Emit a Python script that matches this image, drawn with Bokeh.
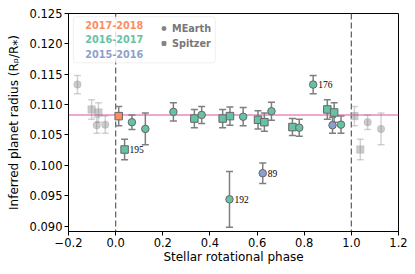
import numpy as np
from bokeh.plotting import figure
from bokeh.models import (Range1d, FixedTicker, CustomJSTickFormatter, ColumnDataSource,
                          Span, Label, BoxAnnotation, Legend, LegendItem, LabelSet)
from bokeh.embed import file_html
from bokeh.resources import INLINE

# ---- data ----
phase = [0.013, 0.038, 0.069, 0.126, 0.245, 0.334, 0.365, 0.454, 0.485, 0.483, 0.541,
         0.604, 0.631, 0.624, 0.661, 0.750, 0.779, 0.838, 0.898, 0.927, 0.920, 0.956]
radius = [0.1081, 0.1026, 0.1071, 0.1060, 0.1088, 0.1077, 0.1083, 0.1077, 0.1081, 0.0944, 0.1080,
          0.1075, 0.1071, 0.0987, 0.1089, 0.1063, 0.1062, 0.1133, 0.1092, 0.1087, 0.1066, 0.1067]
radius_err = [0.0016, 0.0017, 0.0012, 0.0026, 0.0015, 0.0015, 0.0014, 0.0015, 0.0015, 0.0046, 0.0015,
              0.0015, 0.0015, 0.0017, 0.0015, 0.0014, 0.0014, 0.0015, 0.0016, 0.0016, 0.0013, 0.0014]
season = ["2017-2018", "2016-2017", "2016-2017", "2016-2017", "2016-2017", "2016-2017", "2016-2017",
          "2016-2017", "2016-2017", "2016-2017", "2016-2017", "2016-2017", "2016-2017", "2015-2016",
          "2016-2017", "2016-2017", "2016-2017", "2016-2017", "2016-2017", "2016-2017", "2015-2016",
          "2016-2017"]
instrument = ["Spitzer", "Spitzer", "MEarth", "MEarth", "MEarth", "Spitzer", "MEarth", "Spitzer",
              "Spitzer", "MEarth", "MEarth", "Spitzer", "Spitzer", "MEarth", "MEarth", "Spitzer",
              "MEarth", "MEarth", "Spitzer", "Spitzer", "MEarth", "MEarth"]
epoch_label = ["", "195", "", "", "", "", "", "", "", "192", "", "", "", "89", "", "", "", "176",
               "", "", "", ""]
seasons = ["2017-2018", "2016-2017", "2015-2016"]
season_colors = ["#fc8d62", "#66c2a5", "#8da0cb"]
instruments = ["MEarth", "Spitzer"]
instrument_markers = ["circle", "square"]
mean_radius = 0.1083
x_ticks = [-0.2, 0.0, 0.2, 0.4, 0.6, 0.8, 1.0, 1.2]
y_ticks = [0.090, 0.095, 0.100, 0.105, 0.110, 0.115, 0.120, 0.125]
period_lines = [0.0, 1.0]

FONT = "DejaVu Sans"

ph = np.array(phase)
r = np.array(radius)
e = np.array(radius_err)
cmap = dict(zip(seasons, season_colors))
mmap = dict(zip(instruments, instrument_markers))
colors = [cmap[s] for s in season]
markers = [mmap[i] for i in instrument]

main = ColumnDataSource(dict(x=ph, y=r, lo=r - e, hi=r + e, color=colors, marker=markers,
                             label=epoch_label))
wrap = ColumnDataSource(dict(x=np.concatenate([ph - 1, ph + 1]), y=np.concatenate([r, r]),
                             lo=np.concatenate([r - e, r - e]), hi=np.concatenate([r + e, r + e]),
                             marker=markers + markers))

p = figure(width=410, height=272, x_range=Range1d(-0.2, 1.2), y_range=Range1d(0.0891, 0.125),
           output_backend="svg", toolbar_location=None,
           min_border_left=68, min_border_right=12, min_border_top=13, min_border_bottom=41)
p.xgrid.visible = False
p.ygrid.visible = False
p.outline_line_color = "black"
p.outline_line_width = 1
p.outline_line_alpha = 1

for loc in period_lines:
    p.add_layout(Span(location=loc, dimension="height", line_color="#666666", line_width=1.3,
                      line_dash="6 3", level="underlay"))
p.add_layout(Span(location=mean_radius, dimension="width", line_color="#e78ac3", line_width=1.5,
                  level="underlay"))

# wrapped (repeated) points in light gray
p.segment(x0="x", y0="lo", x1="x", y1="hi", source=wrap, line_color="#808080", line_alpha=0.35,
          line_width=1.5)
p.scatter(x="x", y="lo", source=wrap, marker="dash", size=7, line_color="#808080", line_alpha=0.35,
          line_width=1.5)
p.scatter(x="x", y="hi", source=wrap, marker="dash", size=7, line_color="#808080", line_alpha=0.35,
          line_width=1.5)
p.scatter(x="x", y="y", source=wrap, marker="marker", size=7.5, fill_color="#808080",
          fill_alpha=0.4, line_color="#808080", line_alpha=0.2)

# main points
p.segment(x0="x", y0="lo", x1="x", y1="hi", source=main, line_color="#7f7f7f", line_width=1.5)
p.scatter(x="x", y="lo", source=main, marker="dash", size=7, line_color="#7f7f7f", line_width=1.5)
p.scatter(x="x", y="hi", source=main, marker="dash", size=7, line_color="#7f7f7f", line_width=1.5)
p.scatter(x="x", y="y", source=main, marker="marker", size=7.5, fill_color="color",
          line_color="#666666", line_width=1)

p.add_layout(LabelSet(x="x", y="y", text="label", source=main, x_offset=5, y_offset=0,
                      text_baseline="middle", text_font=FONT, text_font_size="9.5px",
                      text_color="black"))

# legend frame and entries
p.add_layout(BoxAnnotation(left=-0.179, right=0.423, top=0.12446, bottom=0.11687,
                           fill_color="white", fill_alpha=0.8, line_color="#cccccc",
                           line_width=1, border_radius=3))
for i, (s, c) in enumerate(zip(seasons, season_colors)):
    p.add_layout(Label(x=-0.129, y=0.1231 - i * 0.00238, text=s, text_color=c,
                       text_font=FONT, text_font_style="bold", text_font_size="9.7px",
                       text_baseline="middle"))

items = []
for n, m in zip(instruments, instrument_markers):
    cap = p.scatter(x=[np.nan], y=[np.nan], marker="square", size=9, fill_alpha=0,
                    line_color="#808080", line_alpha=0.45, line_width=1)
    mk = p.scatter(x=[np.nan], y=[np.nan], marker=m, size=6, fill_color="#808080",
                   line_color="#808080")
    items.append(LegendItem(label=n, renderers=[cap, mk]))
legend = Legend(items=items, location=(91, 182), orientation="vertical", glyph_width=9,
                glyph_height=12, label_height=12, spacing=3, padding=0, margin=0,
                label_standoff=4, border_line_alpha=0, background_fill_alpha=0,
                label_text_font=FONT, label_text_font_style="bold",
                label_text_color="#777777", label_text_font_size="9.7px")
p.add_layout(legend)

# axes
for ax in (p.xaxis[0], p.yaxis[0]):
    ax.axis_line_color = "black"
    ax.major_tick_line_color = "black"
    ax.minor_tick_line_color = None
    ax.major_tick_out = 4
    ax.major_tick_in = 0
    ax.major_label_text_font = FONT
    ax.major_label_text_font_size = "11.5px"
    ax.major_label_text_color = "black"
    ax.axis_label_text_font = FONT
    ax.axis_label_text_font_size = "12px"
    ax.axis_label_text_font_style = "normal"
    ax.axis_label_text_color = "black"
    ax.major_label_standoff = 2
p.xaxis.axis_label_standoff = 0
p.yaxis.axis_label_standoff = 6

p.xaxis.ticker = FixedTicker(ticks=x_ticks)
p.yaxis.ticker = FixedTicker(ticks=y_ticks)
p.xaxis.formatter = CustomJSTickFormatter(code="return tick.toFixed(1).replace('-', '\u2212');")
p.yaxis.formatter = CustomJSTickFormatter(code="return tick.toFixed(3);")
p.xaxis.axis_label = "Stellar rotational phase"
p.yaxis.axis_label = "Inferred planet radius (R\u209a/R\u204e)"

open("out.html", "w").write(file_html(p, INLINE))
